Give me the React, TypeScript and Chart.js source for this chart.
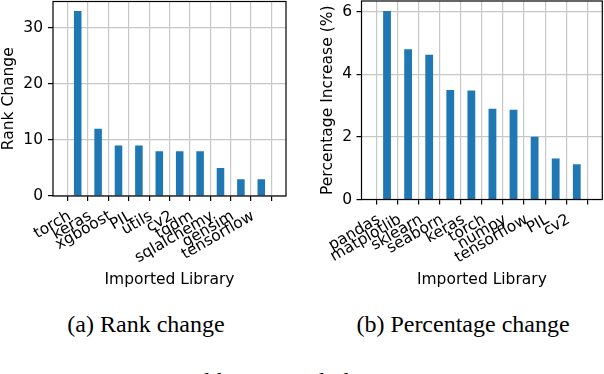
import React, { useEffect, useRef } from 'react';
import { Chart, registerables } from 'chart.js';

Chart.register(...registerables);

// ---- Data ----
const rankLibraries = ['torch', 'keras', 'xgboost', 'PIL', 'utils', 'cv2', 'tqdm', 'sqlalchemy', 'gensim', 'tensorflow'];
const rankChange = [33, 12, 9, 9, 8, 8, 8, 5, 3, 3];
const rankTicks = [0, 10, 20, 30];

const pctLibraries = ['pandas', 'matplotlib', 'sklearn', 'seaborn', 'keras', 'torch', 'numpy', 'tensorflow', 'PIL', 'cv2'];
const pctIncrease = [6.03, 4.81, 4.63, 3.5, 3.49, 2.9, 2.87, 2.01, 1.31, 1.13];
const pctTicks = [0, 2, 4, 6];

const BAR = '#1f77b4';
const GRID = '#c8c8c8';
const FONT = { family: 'DejaVu Sans', size: 15.5 };

type Geo = {
  padLeft: number; padRight: number; padTop: number;
  yWidth: number; xHeight: number;
  yTitlePad: number; xTitlePadBottom: number; yTickPad: number;
};

const spinePlugin = {
  id: 'spines',
  afterDatasetsDraw(chart: any) {
    const { ctx, chartArea } = chart;
    ctx.save();
    ctx.strokeStyle = '#000';
    ctx.lineWidth = 1.2;
    ctx.strokeRect(chartArea.left, chartArea.top, chartArea.right - chartArea.left, chartArea.bottom - chartArea.top);
    ctx.restore();
  },
};

function makeConfig(labels: string[], values: number[], yTicks: number[], yMax: number, yTitle: string, g: Geo): any {
  return {
    type: 'bar',
    data: {
      datasets: [
        {
          data: values.map((v, i) => ({ x: i, y: v })),
          backgroundColor: BAR,
          borderWidth: 0,
          categoryPercentage: 1,
          barPercentage: 0.37,
        },
      ],
    },
    plugins: [spinePlugin],
    options: {
      animation: false,
      responsive: false,
      layout: { padding: { left: g.padLeft, right: g.padRight, top: g.padTop, bottom: 0 } },
      plugins: { legend: { display: false }, tooltip: { enabled: false } },
      scales: {
        x: {
          type: 'linear',
          min: -0.64,
          max: labels.length - 1 + 0.64,
          afterBuildTicks: (s: any) => { s.ticks = labels.map((_, i) => ({ value: i })); },
          afterFit: (s: any) => {
            s.height = g.xHeight;
            s.paddingLeft = 0;
            s.paddingRight = 0;
            s.paddingTop = 0;
            s.paddingBottom = 0;
          },
          ticks: {
            autoSkip: false,
            maxRotation: 30,
            minRotation: 30,
            color: '#000',
            font: FONT,
            padding: 6,
            labelOffset: -8,
            callback: (v: any) => labels[Math.round(Number(v))],
          },
          grid: { color: GRID, lineWidth: 1.2, tickColor: '#000', tickLength: 5, drawTicks: true },
          border: { display: false },
          title: {
            display: true,
            text: 'Imported Library',
            color: '#000',
            font: { ...FONT, lineHeight: 1.1 },
            padding: { top: 0, bottom: g.xTitlePadBottom },
          },
        },
        y: {
          type: 'linear',
          min: 0,
          max: yMax,
          afterBuildTicks: (s: any) => { s.ticks = yTicks.map((v) => ({ value: v })); },
          afterFit: (s: any) => {
            s.width = g.yWidth;
            s.paddingTop = 0;
            s.paddingBottom = 0;
            s.paddingLeft = 0;
            s.paddingRight = 0;
          },
          ticks: { color: '#000', font: FONT, padding: g.yTickPad },
          grid: { color: GRID, lineWidth: 1.2, tickColor: '#000', tickLength: 5, drawTicks: true },
          border: { display: false },
          title: {
            display: true,
            text: yTitle,
            color: '#000',
            font: { ...FONT, lineHeight: 1.1 },
            padding: { top: g.yTitlePad, bottom: 0 },
          },
        },
      },
    },
  };
}

function BarChart(props: { labels: string[]; values: number[]; yTicks: number[]; yMax: number; yTitle: string; geo: Geo; width: number; height: number; left: number }) {
  const ref = useRef<HTMLCanvasElement | null>(null);
  useEffect(() => {
    if (!ref.current) return;
    const chart = new Chart(ref.current, makeConfig(props.labels, props.values, props.yTicks, props.yMax, props.yTitle, props.geo));
    return () => chart.destroy();
  }, []);
  return (
    <canvas
      ref={ref}
      width={props.width}
      height={props.height}
      style={{ position: 'absolute', left: props.left, top: 0, width: props.width, height: props.height }}
    />
  );
}

const captionStyle: React.CSSProperties = {
  position: 'absolute',
  fontFamily: '"Liberation Serif", "Times New Roman", serif',
  fontSize: 24,
  lineHeight: '24px',
  whiteSpace: 'nowrap',
  color: '#000',
};

export default function App() {
  return (
    <div style={{ position: 'fixed', left: 0, top: 0, width: 604, height: 374, background: '#fff', overflow: 'hidden' }}>
      <BarChart
        labels={rankLibraries}
        values={rankChange}
        yTicks={rankTicks}
        yMax={34.7}
        yTitle="Rank Change"
        width={300}
        height={300}
        left={0}
        geo={{ padLeft: 0, padRight: 14, padTop: 1.5, yWidth: 53, xHeight: 104, yTitlePad: 0, xTitlePadBottom: 12, yTickPad: 5 }}
      />
      <BarChart
        labels={pctLibraries}
        values={pctIncrease}
        yTicks={pctTicks}
        yMax={6.35}
        yTitle="Percentage Increase (%)"
        width={304}
        height={300}
        left={300}
        geo={{ padLeft: 0, padRight: 1.7, padTop: 1, yWidth: 61.5, xHeight: 100.5, yTitlePad: 19, xTitlePadBottom: 12, yTickPad: 4.5 }}
      />
      <div style={{ ...captionStyle, left: 146, top: 312, transform: 'translateX(-50%)' }}>(a) Rank change</div>
      <div style={{ ...captionStyle, left: 463, top: 312, transform: 'translateX(-50%)' }}>(b) Percentage change</div>
      <div style={{ ...captionStyle, left: 38, top: 369 }}>Figure 3: Top 10 libraries with the most increase in usage.</div>
    </div>
  );
}
